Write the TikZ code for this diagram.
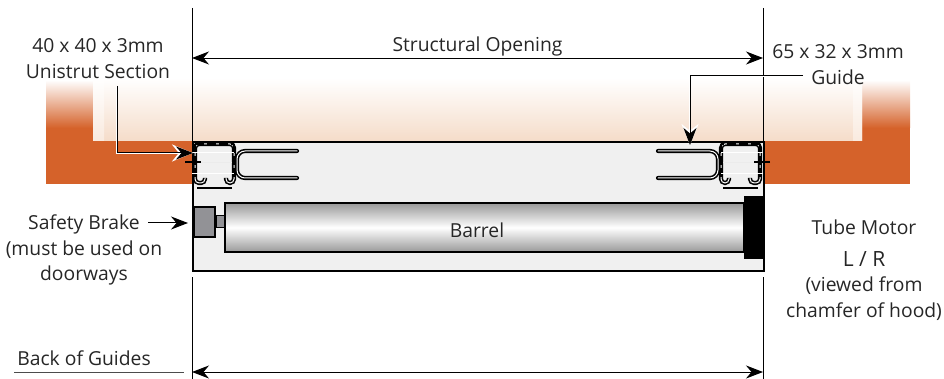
\documentclass[tikz,border=0pt]{standalone}
\usepackage{fontspec}
\setmainfont{Open Sans}
\usepackage{xcolor}
\usetikzlibrary{positioning,arrows.meta}
\definecolor{WallOrange}{HTML}{D5622A}
\definecolor{WallPeach}{HTML}{F5DCC9}
\definecolor{HoodGrey}{HTML}{F0F0F0}
\definecolor{BrakeGrey}{HTML}{929296}
\tikzset{
  label/.style={align=center, inner sep=0pt, font=\fontsize{19.3}{25.5}\selectfont, text=black!85},
  dimline/.style={draw=black, line width=0.9pt},
  dimarrow/.style={dimline, {Stealth[length=17pt,width=13pt]}-{Stealth[length=17pt,width=13pt]}},
  leader/.style={draw=black, line width=1pt, -{Stealth[length=17pt,width=13pt]}},
  halo/.style={draw=white, line width=2.8pt, -{Stealth[length=21pt,width=17pt]}},
  tube/.style={draw=black, line width=1.6pt, double=white, double distance=1pt},
  pics/guideset/.style={code={
    % unistrut section
    \draw[tube, rounded corners=4pt] (13,37) -- (13,42) -- (3,42) -- (3,3) -- (42,3) -- (42,42) -- (34,42) -- (34,37);
    \draw[black, line width=1.2pt, dash pattern=on 9pt off 3pt] (3,3) -- (42,3);
    \draw[black, line width=1.2pt, dash pattern=on 9pt off 3pt] (3,3) -- (3,37);
    \draw[black, line width=1.2pt, dash pattern=on 9pt off 3pt] (42,3) -- (42,37);
    \draw[white, line width=0.8pt] (0,11) -- (42,11) (0,32) -- (42,32);
    \draw[white!92!black, line width=0.8pt] (5,21) -- (40,21);
    \draw[black, line width=1.6pt] (5,47) -- (40,47);
    \draw[black, line width=1.8pt] (-7,21) -- (9,21);
    % guide
    \draw[tube, line cap=round, rounded corners=8pt] (105,10) -- (45,10) -- (45,37) -- (105,37);
  }}
}
\begin{document}
\begin{tikzpicture}[x=1pt,y=-1pt]
\useasboundingbox (0,0) rectangle (944,379);
% wall
\shade[top color=white, bottom color=WallOrange] (46,80) rectangle (910,128);
\fill[WallOrange] (46,128) rectangle (910,184);
\fill[white] (93,78) rectangle (862,141);
\shade[top color=white, bottom color=WallPeach] (93,78) rectangle (862,141);
\shade[top color=white, bottom color=WallPeach!60] (93,78) rectangle (104,141);
\shade[top color=white, bottom color=WallPeach!60] (853,78) rectangle (862,141);
% hood
\node[draw=black, line width=1.8pt, fill=HoodGrey, minimum width=571pt, minimum height=129pt, inner sep=0pt, anchor=north west] (hood) at (192,141) {};
\pic at (192,141) {guideset};
\pic[xscale=-1] at (763,141) {guideset};
% barrel and ends
\node[draw=black, line width=1.6pt, fill=BrakeGrey, minimum width=21pt, minimum height=30pt, inner sep=0pt, anchor=north west] (brake) at (193,206) {};
\node[draw=black, line width=1.2pt, fill=BrakeGrey, minimum width=12pt, minimum height=12pt, inner sep=0pt, anchor=west] (stub) at (brake.east) {};
\shade[top color=black!40, bottom color=black!40, middle color=white, draw=black, line width=2.8pt] (225,203) rectangle (744,252);
\node[fill=black, minimum width=19pt, minimum height=63pt, inner sep=0pt, anchor=north west] (motor) at (744,196) {};
% dimension lines
\coordinate (openl) at (192,58);
\coordinate (openr) at (763,58);
\coordinate (backl) at (192,372);
\coordinate (backr) at (763,372);
\draw[dimline] (192,8) -- (192,141);
\draw[dimline] (763,8) -- (763,141);
\draw[dimline] (192,277) -- (192,379);
\draw[dimline] (763,277) -- (763,379);
\draw[dimarrow] (openl) -- (openr);
\draw[dimarrow] (backl) -- (backr);
% leaders
\coordinate (unifrom) at (117,86);
\coordinate (unito) at (193,153);
\coordinate (guidefrom) at (803,76);
\coordinate (guideto) at (690,145);
\coordinate (safetyfrom) at (148,223);
\coordinate (safetyto) at (188,223);
\draw[halo] (unifrom) |- (unito);
\draw[leader] (unifrom) |- (unito);
\draw[halo] (guidefrom) -| (guideto);
\draw[leader] (guidefrom) -| (guideto);
\draw[leader] (safetyfrom) -- (safetyto);
\coordinate (backa) at (14,372);
\coordinate (backb) at (184,372);
\draw[draw=black!70, line width=1pt] (backa) -- (backb);
% labels
\node[label] (opening) at (477.5,46) {Structural Opening};
\node[label] (unistrut) at (98,58.5) {40 x 40 x 3mm\\Unistrut Section};
\node[label] (guide) at (838,64.5) {65 x 32 x 3mm\\Guide};
\node[label] (barrel) at (477,230) {Barrel};
\node[label] (safety) at (84,250) {Safety Brake\\(must be used on\\doorways};
\node[label] (motorlab) at (864,270) {Tube Motor\\[6pt]{\fontsize{21}{25.5}\selectfont L / R}\\(viewed from\\chamfer of hood)};
\node[label] (back) at (84,358) {Back of Guides};
\end{tikzpicture}
\end{document}
